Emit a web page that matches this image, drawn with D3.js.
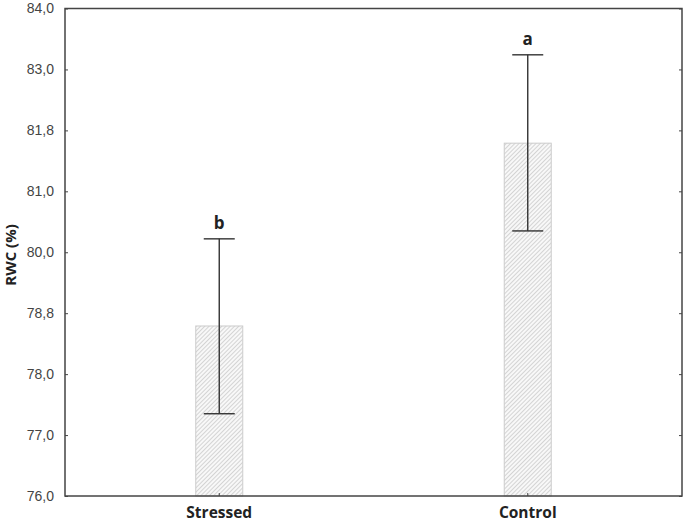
<!DOCTYPE html>
<html lang="en">
<head>
<meta charset="UTF-8">
<title>RWC</title>
<script src="https://d3js.org/d3.v7.min.js"></script>
<style>
    * { margin: 0; padding: 0; }
    body { background: white; }
    .tick-label { font-family: "Liberation Sans", Arial, sans-serif; font-size: 14px; fill: #444; }
    .bold { font-family: "Open Sans", sans-serif; font-weight: 700; fill: #222; }
</style>
</head>
<body>
<svg id="chart" width="685" height="522"></svg>
<script>
// data
const groups = ["Stressed", "Control"];
const means = [78.79, 81.79];
const errLow = [77.35, 80.35];
const errHigh = [80.22, 83.24];
const letters = ["b", "a"];
const tickValues = [76, 77, 78, 79, 80, 81, 82, 83, 84];
const tickLabels = ["76,0", "77,0", "78,0", "78,8", "80,0", "81,0", "81,8", "83,0", "84,0"];

const plotL = 65, plotR = 682, plotT = 8.5, plotB = 496;
const svg = d3.select("#chart");

const y = d3.scaleLinear().domain([76, 84]).range([plotB, plotT]);
const x = d3.scaleBand().domain(groups).range([plotL, plotR]).paddingInner(0.85).paddingOuter(0.425);

// hatch pattern
const pat = svg.append("defs").append("pattern")
    .attr("id", "hatch")
    .attr("patternUnits", "userSpaceOnUse")
    .attr("width", 3).attr("height", 3)
    .attr("patternTransform", "rotate(45)");
pat.append("rect").attr("width", 3).attr("height", 3).attr("fill", "#f8f8f8");
pat.append("line").attr("x1", 0).attr("y1", 0).attr("x2", 0).attr("y2", 3)
    .attr("stroke", "#bdbdbd").attr("stroke-width", 1.2);

// bars
const barW = 47;
svg.selectAll(".bar").data(groups).enter().append("rect")
    .attr("x", d => x(d) + x.bandwidth() / 2 - barW / 2)
    .attr("y", (d, i) => y(means[i]))
    .attr("width", barW)
    .attr("height", (d, i) => plotB - y(means[i]))
    .attr("fill", "url(#hatch)")
    .attr("stroke", "#cccccc")
    .attr("stroke-width", 1);

// error bars
const capW = 31;
groups.forEach((g, i) => {
    const cx = x(g) + x.bandwidth() / 2;
    const eg = svg.append("g").attr("stroke", "#333").attr("stroke-width", 1.4);
    eg.append("line").attr("x1", cx).attr("x2", cx).attr("y1", y(errLow[i])).attr("y2", y(errHigh[i]));
    [errLow[i], errHigh[i]].forEach(v => {
        eg.append("line").attr("x1", cx - capW / 2).attr("x2", cx + capW / 2).attr("y1", y(v)).attr("y2", y(v));
    });
    svg.append("text").attr("class", "bold")
        .attr("x", cx).attr("y", y(errHigh[i]) - 10)
        .attr("text-anchor", "middle")
        .style("font-size", "17px")
        .text(letters[i]);
});

// axes (ticks inside)
const yAxisL = d3.axisLeft(y).tickValues(tickValues).tickSize(-3).tickPadding(11)
    .tickFormat((d, i) => tickLabels[i]);
const gl = svg.append("g").attr("transform", `translate(${plotL},0)`).call(yAxisL);
gl.select(".domain").remove();
gl.selectAll("line").attr("stroke", "#444");
gl.selectAll("text").attr("class", "tick-label");

const yAxisR = d3.axisRight(y).tickValues(tickValues).tickSize(-3).tickFormat("");
const gr = svg.append("g").attr("transform", `translate(${plotR},0)`).call(yAxisR);
gr.select(".domain").remove();
gr.selectAll("line").attr("stroke", "#444");

const xAxis = d3.axisBottom(x).tickSize(-3).tickPadding(11);
const gx = svg.append("g").attr("transform", `translate(0,${plotB})`).call(xAxis);
gx.select(".domain").remove();
gx.selectAll("line").attr("stroke", "#444");
gx.selectAll("text").attr("class", "bold").style("font-size", "15.5px");

// frame
svg.append("rect").attr("x", plotL).attr("y", plotT)
    .attr("width", plotR - plotL).attr("height", plotB - plotT)
    .attr("fill", "none").attr("stroke", "#444").attr("stroke-width", 1.5);

// y title
svg.append("text").attr("class", "bold")
    .attr("transform", `translate(16,255) rotate(-90)`)
    .attr("text-anchor", "middle")
    .style("font-size", "15px")
    .text("RWC (%)");
</script>
</body>
</html>
